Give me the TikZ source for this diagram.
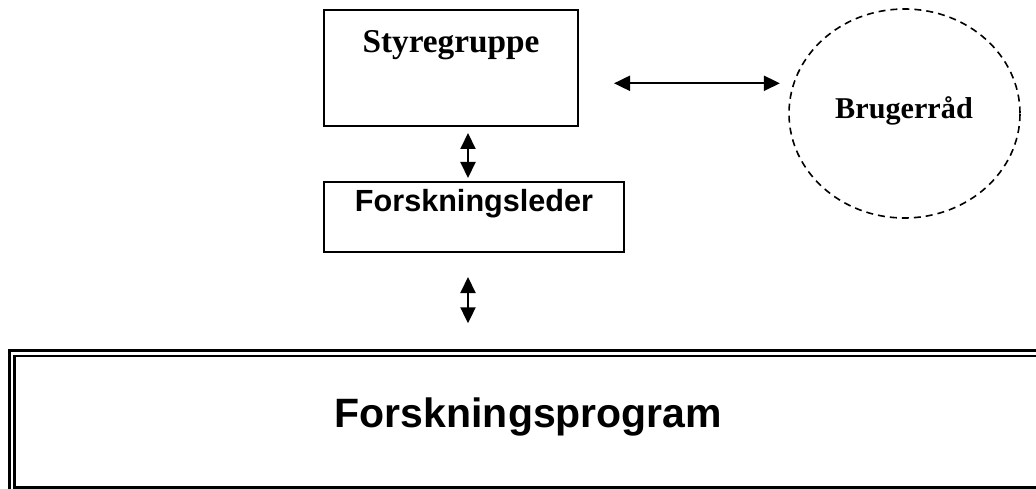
\documentclass[tikz,border=0pt]{standalone}
\usepackage{fontspec}
\setmainfont{Liberation Serif}
\newfontfamily\arialfont{Liberation Sans}
\usetikzlibrary{arrows.meta,shapes.geometric}
\tikzset{
  box/.style={draw=black, line width=2pt, rectangle, inner sep=0pt},
  arr/.style={line width=2pt, {Triangle[length=16pt,width=15pt]}-{Triangle[length=16pt,width=15pt]}},
  serifb/.style={font=\fontsize{33.3}{40}\selectfont\bfseries, inner sep=0pt, anchor=base},
  sansb/.style={font=\arialfont\fontsize{30.6}{36}\selectfont\bfseries, inner sep=0pt, anchor=base},
}
\begin{document}
\begin{tikzpicture}[x=1pt,y=-1pt]
\useasboundingbox (0,0) rectangle (1036,489);
\clip (0,0) rectangle (1036,489);
% Styregruppe
\node[box, minimum width=254pt, minimum height=116pt] (sty) at (451,68) {};
\node[serifb] (stytext) at (451,53) {Styregruppe};
% Forskningsleder
\node[box, minimum width=300pt, minimum height=70pt] (fls) at (474,217) {};
\node[sansb] (flstext) at (474,211.7) {Forskningsleder};
% Brugerraad
\node[draw=black, line width=1.6pt, dash pattern=on 7pt off 5pt, ellipse, minimum width=231pt, minimum height=209pt, inner sep=0pt] (bru) at (904.5,113.5) {};
\node[font=\fontsize{30.2}{36}\selectfont\bfseries, inner sep=0pt, anchor=base] (brutext) at (904,119) {Brugerråd};
% Forskningsprogram
\node[draw=black, line width=2.7pt, double=white, double distance=2.7pt, rectangle, minimum width=1033pt, minimum height=136.65pt, inner sep=0pt] (prog) at (528.5,421.7) {};
\node[font=\arialfont\fontsize{41}{48}\selectfont\bfseries, inner sep=0pt, anchor=base] (progtext) at (528.5,427) {Forskningsprogram};
% connectors
\draw[arr] ([xshift=17pt,yshift=-6pt]sty.south) -- ([xshift=-6pt,yshift=3pt]fls.north);
\draw[arr] ([xshift=-6pt,yshift=-24pt]fls.south) -- ([xshift=-60.5pt,yshift=28.7pt]prog.north);
\draw[arr] ([xshift=35pt,yshift=-15.3pt]sty.east) -- ([xshift=-8.3pt,yshift=30.2pt]bru.west);
\end{tikzpicture}
\end{document}
